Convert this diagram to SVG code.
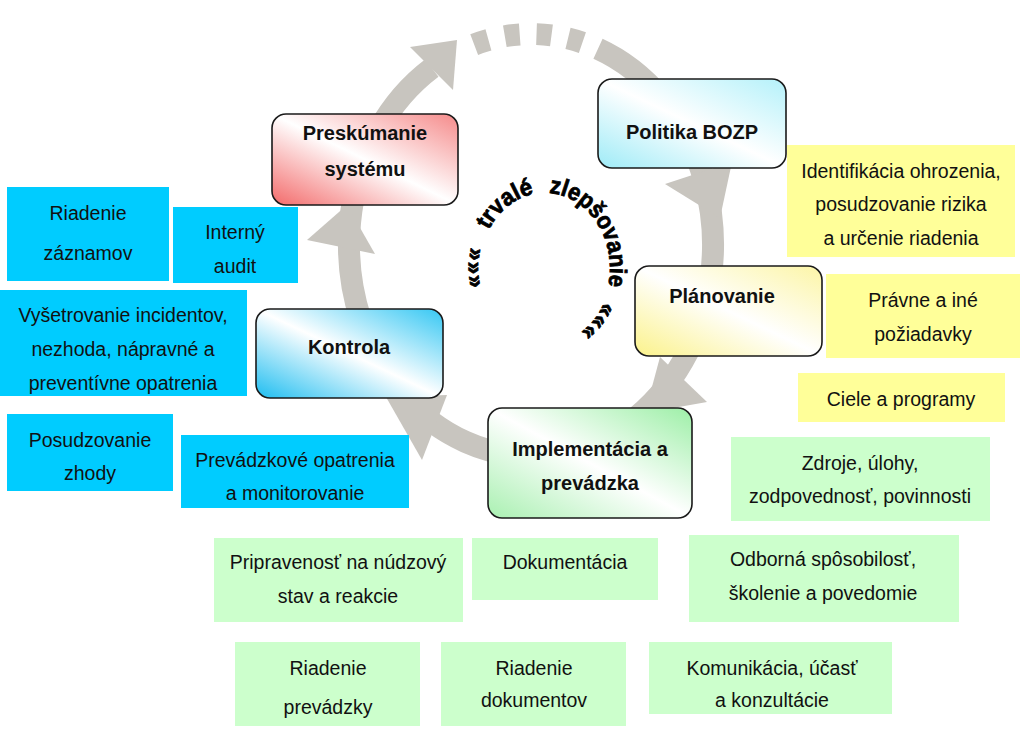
<svg xmlns="http://www.w3.org/2000/svg" xmlns:xlink="http://www.w3.org/1999/xlink" width="1024" height="739" viewBox="0 0 1024 739">
<style>
  .node rect { stroke: #1a1a1a; stroke-width: 1.6; }
  .nt { font-family: "Liberation Sans", Arial, sans-serif; font-weight: bold; font-size: 20px; fill: #111; text-anchor: middle; }
  .bt { font-family: "Liberation Sans", Arial, sans-serif; font-size: 19.5px; fill: #111; text-anchor: middle; }
  .blue { fill: #00ccff; }
  .yel { fill: #ffff99; }
  .grn { fill: #ccffcc; }
  .ring { fill: none; stroke: #c8c5bf; stroke-width: 22; }
  .head { fill: #c8c5bf; }
  .curve { font-family: "Liberation Sans", Arial, sans-serif; font-weight: bold; font-size: 24px; fill: #000; stroke: #000; stroke-width: 0.8; }
</style>
<defs>
  <linearGradient id="gRed" x1="0" y1="1" x2="1" y2="0">
    <stop offset="0" stop-color="#f36a6a"/><stop offset="0.5" stop-color="#ffffff"/><stop offset="1" stop-color="#f58a8a"/>
  </linearGradient>
  <linearGradient id="gCyan" x1="0" y1="1" x2="1" y2="0">
    <stop offset="0" stop-color="#9eebf7"/><stop offset="0.5" stop-color="#ffffff"/><stop offset="1" stop-color="#b4f1fa"/>
  </linearGradient>
  <linearGradient id="gYel" x1="0" y1="1" x2="1" y2="0">
    <stop offset="0" stop-color="#fbf28a"/><stop offset="0.5" stop-color="#ffffff"/><stop offset="1" stop-color="#fcf5a6"/>
  </linearGradient>
  <linearGradient id="gBlue" x1="0" y1="1" x2="1" y2="0">
    <stop offset="0" stop-color="#1dbdf0"/><stop offset="0.5" stop-color="#ffffff"/><stop offset="1" stop-color="#35c7f3"/>
  </linearGradient>
  <linearGradient id="gGrn" x1="0" y1="1" x2="1" y2="0">
    <stop offset="0" stop-color="#a9f0b1"/><stop offset="0.5" stop-color="#ffffff"/><stop offset="1" stop-color="#9defa7"/>
  </linearGradient>
  <path id="arcText" d="M 488.7 305.5 A 65 75 0 1 1 572 336"/>
</defs>
<rect width="1024" height="739" fill="#ffffff"/>

<g id="connectors">
  <path class="ring" d="M 598 48.8 A 182 211 0 1 1 431.9 68"/>
  <path class="ring" d="M 474.2 44.6 A 182 211 0 0 1 583 42.8" stroke-dasharray="15 16.8"/>
  <polygon class="head" points="410,47 457,40 453,90"/>
  <polygon class="head" points="665,184 732,162 720,218"/>
  <polygon class="head" points="660,357 707,402 645,413"/>
  <polygon class="head" points="447,395 422,460 386,397"/>
  <polygon class="head" points="307,240 347,205 375,254"/>
</g>

<g id="center-label">
  <text class="curve"><textPath xlink:href="#arcText" startOffset="20" textLength="38" lengthAdjust="spacingAndGlyphs">«««</textPath></text>
  <text class="curve"><textPath xlink:href="#arcText" startOffset="78" textLength="60" lengthAdjust="spacingAndGlyphs">trvalé</textPath></text>
  <text class="curve"><textPath xlink:href="#arcText" startOffset="153" textLength="124" lengthAdjust="spacingAndGlyphs">zlepšovanie</textPath></text>
  <text class="curve"><textPath xlink:href="#arcText" startOffset="293" textLength="38" lengthAdjust="spacingAndGlyphs">«««</textPath></text>
</g>

<g id="node-preskumanie" class="node">
  <rect x="272" y="114" width="186" height="91" rx="14" fill="url(#gRed)"/>
  <text class="nt" x="365" y="140">Preskúmanie</text>
  <text class="nt" x="365" y="176">systému</text>
</g>
<g id="node-politika" class="node">
  <rect x="598" y="79" width="188" height="89" rx="14" fill="url(#gCyan)"/>
  <text class="nt" x="692" y="139">Politika BOZP</text>
</g>
<g id="node-planovanie" class="node">
  <rect x="635" y="266" width="187" height="90" rx="14" fill="url(#gYel)"/>
  <text class="nt" x="722" y="303">Plánovanie</text>
</g>
<g id="node-kontrola" class="node">
  <rect x="256" y="309" width="187" height="89" rx="14" fill="url(#gBlue)"/>
  <text class="nt" x="349" y="354">Kontrola</text>
</g>
<g id="node-implementacia" class="node">
  <rect x="488" y="408" width="204" height="110" rx="14" fill="url(#gGrn)"/>
  <text class="nt" x="590" y="456">Implementácia a</text>
  <text class="nt" x="590" y="490">prevádzka</text>
</g>

<g id="box-riadenie-zaznamov">
  <rect class="blue" x="7" y="187" width="162" height="94"/>
  <text class="bt" x="88" y="220">Riadenie</text>
  <text class="bt" x="88" y="260">záznamov</text>
</g>
<g id="box-interny-audit">
  <rect class="blue" x="173" y="207" width="125" height="76"/>
  <text class="bt" x="235" y="239">Interný</text>
  <text class="bt" x="235" y="273">audit</text>
</g>
<g id="box-vysetrovanie">
  <rect class="blue" x="0" y="290" width="247" height="106"/>
  <text class="bt" x="123" y="322">Vyšetrovanie incidentov,</text>
  <text class="bt" x="123" y="356">nezhoda, nápravné a</text>
  <text class="bt" x="123" y="390">preventívne opatrenia</text>
</g>
<g id="box-posudzovanie-zhody">
  <rect class="blue" x="7" y="414" width="166" height="77"/>
  <text class="bt" x="90" y="447">Posudzovanie</text>
  <text class="bt" x="90" y="480">zhody</text>
</g>
<g id="box-prevadzkove-opatrenia">
  <rect class="blue" x="181" y="435" width="228" height="73"/>
  <text class="bt" x="295" y="467">Prevádzkové opatrenia</text>
  <text class="bt" x="295" y="500">a monitorovanie</text>
</g>

<g id="box-identifikacia">
  <rect class="yel" x="787" y="145" width="228" height="112"/>
  <text class="bt" x="901" y="178">Identifikácia ohrozenia,</text>
  <text class="bt" x="901" y="211">posudzovanie rizika</text>
  <text class="bt" x="901" y="245">a určenie riadenia</text>
</g>
<g id="box-pravne">
  <rect class="yel" x="826" y="274" width="194" height="84"/>
  <text class="bt" x="923" y="307">Právne a iné</text>
  <text class="bt" x="923" y="341">požiadavky</text>
</g>
<g id="box-ciele">
  <rect class="yel" x="798" y="373" width="207" height="49"/>
  <text class="bt" x="901" y="406">Ciele a programy</text>
</g>

<g id="box-zdroje">
  <rect class="grn" x="731" y="437" width="259" height="84"/>
  <text class="bt" x="860" y="470">Zdroje, úlohy,</text>
  <text class="bt" x="860" y="503">zodpovednosť, povinnosti</text>
</g>
<g id="box-pripravenost">
  <rect class="grn" x="214" y="538" width="249" height="84"/>
  <text class="bt" x="338" y="569">Pripravenosť na núdzový</text>
  <text class="bt" x="338" y="603">stav a reakcie</text>
</g>
<g id="box-dokumentacia">
  <rect class="grn" x="472" y="538" width="186" height="62"/>
  <text class="bt" x="565" y="569">Dokumentácia</text>
</g>
<g id="box-odborna">
  <rect class="grn" x="689" y="535" width="270" height="87"/>
  <text class="bt" x="823" y="566">Odborná spôsobilosť,</text>
  <text class="bt" x="823" y="600">školenie a povedomie</text>
</g>
<g id="box-riadenie-prevadzky">
  <rect class="grn" x="235" y="642" width="185" height="84"/>
  <text class="bt" x="328" y="675">Riadenie</text>
  <text class="bt" x="328" y="714">prevádzky</text>
</g>
<g id="box-riadenie-dokumentov">
  <rect class="grn" x="441" y="642" width="185" height="84"/>
  <text class="bt" x="534" y="675">Riadenie</text>
  <text class="bt" x="534" y="707">dokumentov</text>
</g>
<g id="box-komunikacia">
  <rect class="grn" x="649" y="642" width="243" height="72"/>
  <text class="bt" x="772" y="675">Komunikácia, účasť</text>
  <text class="bt" x="772" y="707">a konzultácie</text>
</g>
</svg>
